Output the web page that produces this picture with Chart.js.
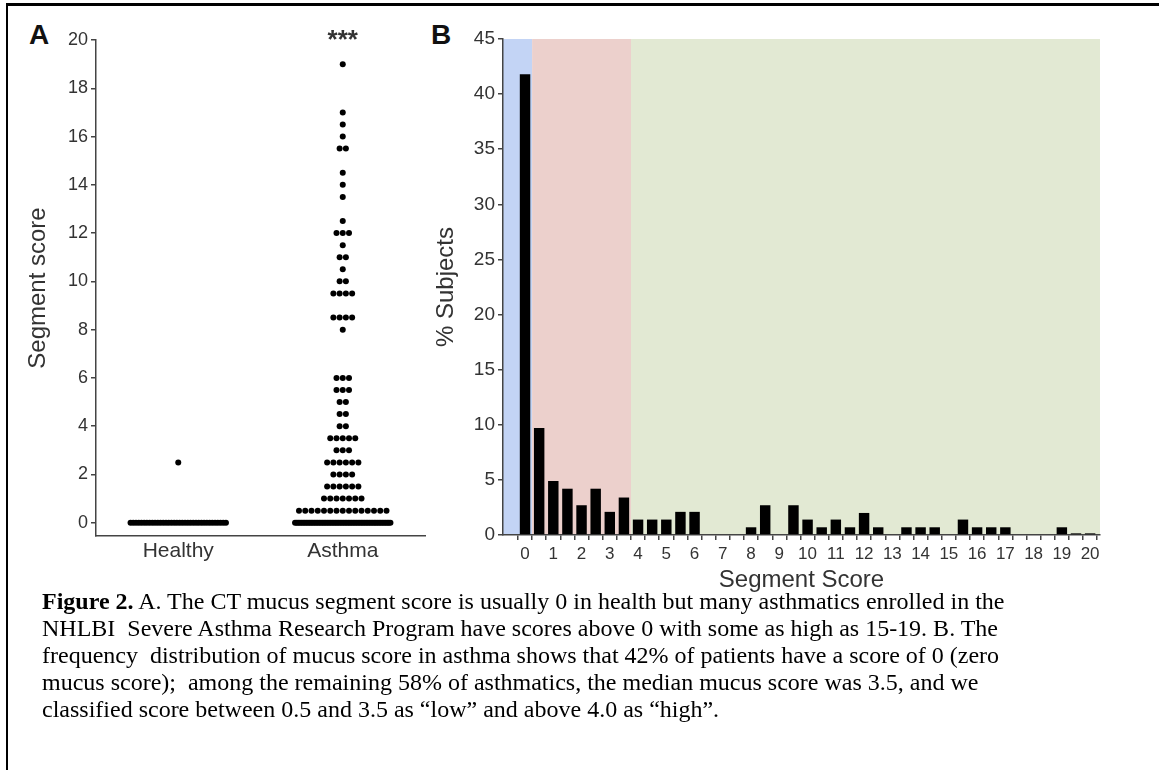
<!DOCTYPE html>
<html>
<head>
<meta charset="utf-8">
<script src="https://cdn.jsdelivr.net/npm/chart.js@4.4.0/dist/chart.umd.min.js"></script>
<style>
  body { margin: 0; width: 1159px; height: 770px; background: #fff; position: relative; overflow: hidden; font-family: "Liberation Sans", Arial, sans-serif; }
  .frame { position: absolute; left: 6px; top: 3px; width: 1200px; height: 800px; border-top: 3px solid #000; border-left: 2px solid #000; }
  .panel { position: absolute; font-weight: bold; font-size: 28px; color: #111; }
  #chartA { position: absolute; left: 0; top: 0; }
  #chartB { position: absolute; left: 430px; top: 0; }
  .caption { position: absolute; left: 42px; top: 588px; font-family: "Liberation Serif", "Times New Roman", serif; font-size: 24px; line-height: 27px; color: #000; white-space: nowrap; }
</style>
</head>
<body>
<div class="frame"></div>
<div class="panel" style="left:29px; top:19px;">A</div>
<div class="panel" style="left:431px; top:19px;">B</div>
<canvas id="chartA" width="440" height="566"></canvas>
<canvas id="chartB" width="700" height="599"></canvas>
<div class="caption">
  <div><b>Figure 2.</b> A. The CT mucus segment score is usually 0 in health but many asthmatics enrolled in the</div>
  <div>NHLBI&nbsp; Severe Asthma Research Program have scores above 0 with some as high as 15-19. B. The</div>
  <div>frequency&nbsp; distribution of mucus score in asthma shows that 42% of patients have a score of 0 (zero</div>
  <div>mucus score);&nbsp; among the remaining 58% of asthmatics, the median mucus score was 3.5, and we</div>
  <div>classified score between 0.5 and 3.5 as “low” and above 4.0 as “high”.</div>
</div>
<script>
Chart.defaults.font.family = "'Liberation Sans', Arial, sans-serif";

// Panel A: dot rows (score) and how many subjects sit on each row
const groups = ['Healthy', 'Asthma'];
const healthyScores = [0, 2.5];
const healthyCounts = [36, 1];
const asthmaScores = [0, 0.5, 1, 1.5, 2, 2.5, 3, 3.5, 4, 4.5, 5, 5.5, 6, 8, 8.5, 9.5, 10, 10.5, 11, 11.5, 12, 12.5, 13.5, 14, 14.5, 15.5, 16, 16.5, 17, 19];
const asthmaCounts = [60, 15, 7, 6, 4, 6, 3, 5, 2, 2, 2, 3, 3, 1, 4, 4, 2, 1, 2, 1, 3, 1, 1, 1, 1, 2, 1, 1, 1, 1];
const yTicksA = [0, 2, 4, 6, 8, 10, 12, 14, 16, 18, 20];

// Panel B: histogram of segment score in asthma
const segmentScores = [0, 0.5, 1, 1.5, 2, 2.5, 3, 3.5, 4, 4.5, 5, 5.5, 6, 6.5, 7, 7.5, 8, 8.5, 9, 9.5, 10,
  10.5, 11, 11.5, 12, 12.5, 13, 13.5, 14, 14.5, 15, 15.5, 16, 16.5, 17, 17.5, 18, 18.5, 19, 19.5, 20];
const pctSubjects = [41.8, 9.7, 4.9, 4.2, 2.7, 4.2, 2.1, 3.4, 1.4, 1.4, 1.4, 2.1, 2.1, 0, 0, 0, 0.7, 2.7, 0, 2.7, 1.4,
  0.7, 1.4, 0.7, 2.0, 0.7, 0, 0.7, 0.7, 0.7, 0, 1.4, 0.7, 0.7, 0.7, 0, 0, 0, 0.7, 0.15, 0.15];
const zoneEdges = [0.25, 3.75];   // zero | low | high
const zoneColors = ['#c3d4f5', '#ecd0cc', '#e2e9d3'];

// spread each row sideways like a column scatter
function dotRows(group, scores, counts) {
  const pts = [];
  scores.forEach((s, k) => {
    const n = counts[k];
    const step = n > 1 ? Math.min(0.038, 0.58 / (n - 1)) : 0;
    for (let i = 0; i < n; i++) pts.push({ x: group + (i - (n - 1) / 2) * step, y: s });
  });
  return pts;
}
const dotsA = dotRows(1, healthyScores, healthyCounts).concat(dotRows(2, asthmaScores, asthmaCounts));

const axisCol = '#444';
const tickCol = '#333';

const stars = {
  id: 'stars',
  afterDraw(chart) {
    const { ctx, scales: { x } } = chart;
    ctx.save();
    ctx.font = "bold 26px 'Liberation Sans', Arial, sans-serif";
    ctx.fillStyle = '#333';
    ctx.textAlign = 'center';
    ctx.fillText('***', x.getPixelForValue(2), 48);
    ctx.restore();
  }
};

new Chart(document.getElementById('chartA'), {
  type: 'scatter',
  data: { datasets: [{ data: dotsA, pointRadius: 3, pointHoverRadius: 3, backgroundColor: '#000', borderWidth: 0 }] },
  options: {
    responsive: false,
    animation: false,
    layout: { padding: { left: 20, top: 40, right: 15, bottom: 0 } },
    plugins: { legend: { display: false }, tooltip: { enabled: false } },
    scales: {
      x: {
        type: 'linear', min: 0.5, max: 2.5,
        afterBuildTicks: s => { s.ticks = [{ value: 1 }, { value: 2 }]; },
        ticks: { callback: v => groups[v - 1], color: tickCol, font: { size: 21 }, padding: 3 },
        grid: { display: false, drawTicks: false },
        border: { color: axisCol, width: 1.5 },
        afterFit: s => { s.height = 30; }
      },
      y: {
        min: -0.55, max: 20,
        afterBuildTicks: s => { s.ticks = yTicksA.map(v => ({ value: v })); },
        ticks: { color: tickCol, font: { size: 18 }, padding: 3 },
        grid: { drawOnChartArea: false, tickLength: 5, color: axisCol, lineWidth: 1.5 },
        border: { color: axisCol, width: 1.5 },
        title: { display: true, text: 'Segment score', color: tickCol, font: { size: 24 } },
        afterFit: s => { s.width = 76; }
      }
    }
  },
  plugins: [stars]
});

const shading = {
  id: 'shading',
  beforeDraw(chart) {
    const { ctx, chartArea: { top, bottom }, scales: { x } } = chart;
    const edges = [x.min].concat(zoneEdges, [x.max]);
    ctx.save();
    zoneColors.forEach((c, i) => {
      const x0 = x.getPixelForValue(edges[i]);
      const x1 = x.getPixelForValue(edges[i + 1]);
      ctx.fillStyle = c;
      ctx.fillRect(x0, top, x1 - x0, bottom - top);
    });
    ctx.restore();
  }
};

new Chart(document.getElementById('chartB'), {
  type: 'bar',
  data: {
    datasets: [{
      data: segmentScores.map((s, i) => ({ x: s, y: pctSubjects[i] })),
      backgroundColor: '#000',
      barPercentage: 0.74,
      categoryPercentage: 1
    }]
  },
  options: {
    responsive: false,
    animation: false,
    layout: { padding: { left: 0, top: 39, right: 30, bottom: 0 } },
    plugins: { legend: { display: false }, tooltip: { enabled: false } },
    scales: {
      x: {
        type: 'linear', min: -0.78, max: 20.35, offset: false,
        afterBuildTicks: s => { s.ticks = segmentScores.map(v => ({ value: v })); },
        ticks: { autoSkip: false, maxRotation: 0, color: tickCol, font: { size: 17 }, padding: 4,
          callback: v => Number.isInteger(v) ? String(v) : '' },
        grid: { drawOnChartArea: false, tickLength: 5, color: axisCol, lineWidth: 1.5 },
        border: { color: axisCol, width: 1.5 },
        title: { display: true, text: 'Segment Score', color: tickCol, font: { size: 24 } },
        afterFit: s => { s.height = 64; }
      },
      y: {
        min: 0, max: 45,
        ticks: { stepSize: 5, color: tickCol, font: { size: 19 }, padding: 3 },
        grid: { drawOnChartArea: false, tickLength: 5, color: axisCol, lineWidth: 1.5 },
        border: { color: axisCol, width: 1.5 },
        title: { display: true, text: '% Subjects', color: tickCol, font: { size: 24 }, padding: { top: 2, bottom: 4 } },
        afterFit: s => { s.width = 73; }
      }
    }
  },
  plugins: [shading]
});
</script>
</body>
</html>
